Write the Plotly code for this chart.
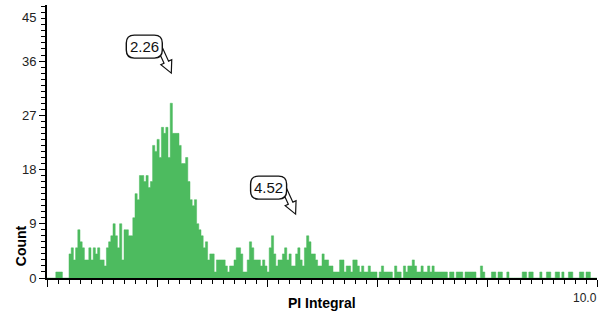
import numpy as np
import plotly.graph_objects as go

# DNA content histogram: PI Integral channel, 0.04-wide bins from 0 to 10
bin_width = 0.04
counts = (
    [0, 0, 0, 0, 1, 1, 1, 0, 0, 0, 4, 5, 3, 5, 8, 6, 5, 3, 3, 5, 3, 5, 4, 5, 3]
    + [3, 2, 5, 6, 7, 9, 7, 5, 9, 3, 8, 8, 7, 7, 10, 14, 13, 17, 17, 16, 17, 15, 16, 22, 21]
    + [23, 20, 25, 24, 25, 20, 29, 24, 24, 24, 22, 19, 19, 20, 16, 13, 12, 13, 9, 8, 7, 5, 6, 3, 4]
    + [4, 1, 3, 3, 3, 3, 2, 1, 2, 2, 3, 5, 5, 4, 1, 1, 3, 6, 5, 3, 3, 3, 2, 3, 2]
    + [1, 5, 7, 4, 2, 3, 3, 4, 5, 3, 4, 2, 2, 4, 5, 3, 2, 5, 7, 6, 4, 4, 3, 2, 2]
    + [4, 3, 3, 2, 2, 1, 1, 1, 3, 3, 1, 2, 2, 1, 3, 3, 2, 1, 2, 1, 1, 2, 1, 1, 1]
    + [0, 1, 2, 1, 1, 1, 1, 0, 2, 1, 1, 0, 2, 1, 2, 2, 3, 2, 1, 1, 2, 1, 1, 2, 1]
    + [2, 1, 1, 1, 1, 1, 1, 0, 1, 1, 0, 1, 1, 1, 0, 1, 1, 1, 1, 1, 0, 0, 2, 1, 0]
    + [0, 0, 1, 1, 0, 1, 1, 0, 0, 1, 0, 0, 0, 0, 0, 0, 1, 1, 0, 1, 1, 0, 0, 0, 1]
    + [0, 0, 1, 1, 0, 0, 1, 1, 0, 1, 0, 0, 1, 1, 0, 0, 0, 1, 1, 0, 1, 1, 0, 0, 0]
)

# Peak markers: position on the PI axis and the count level the callout points at
peak_positions = [2.26, 4.52]
peak_labels = ["2.26", "4.52"]
callout_levels = [34, 10.6]

y_tick_values = [0, 9, 18, 27, 36]
y_top_label = "45"

GREEN = "#4dbb5f"
TICK_FONT = dict(family="Liberation Sans, Arial, sans-serif", size=13, color="#222222")
TITLE_FONT = dict(family="Liberation Sans, Arial, sans-serif", size=14, color="#000000")

# Histogram drawn as a filled step outline over the bin edges
edges = np.arange(len(counts) + 1) * bin_width
step_y = list(counts) + [counts[-1]]

fig = go.Figure()
fig.add_trace(go.Scatter(
    x=edges, y=step_y, mode="lines", line=dict(shape="hv", color=GREEN, width=0.5),
    fill="tozeroy", fillcolor=GREEN, hoverinfo="skip", showlegend=False,
))

# Callout arrow: hollow block arrow pointing down-right to the marker tip
def arrow_path():
    tail = np.array([-11.0, 24.0])        # offset of the arrow tail (pixels, y up)
    length = np.hypot(*tail)
    u = tail / length
    v = np.array([-u[1], u[0]])
    head_len, head_hw, shaft_hw = 12.0, 6.0, 2.5
    pts = [
        np.zeros(2),
        u * head_len + v * head_hw,
        u * head_len + v * shaft_hw,
        u * length + v * shaft_hw,
        u * length - v * shaft_hw,
        u * head_len - v * shaft_hw,
        u * head_len - v * head_hw,
    ]
    return "M " + " L ".join(f"{p[0]:.2f},{p[1]:.2f}" for p in pts) + " Z"


def rounded_box(x0, x1, y0, y1, r):
    return (
        f"M {x0 + r},{y0} L {x1 - r},{y0} Q {x1},{y0} {x1},{y0 + r} "
        f"L {x1},{y1 - r} Q {x1},{y1} {x1 - r},{y1} "
        f"L {x0 + r},{y1} Q {x0},{y1} {x0},{y1 - r} "
        f"L {x0},{y0 + r} Q {x0},{y0} {x0 + r},{y0} Z"
    )


box_x0, box_x1, box_y0, box_y1 = -45, -9, 15, 38
for pos, label, level in zip(peak_positions, peak_labels, callout_levels):
    common = dict(xref="x", yref="y", xsizemode="pixel", ysizemode="pixel",
                  xanchor=pos, yanchor=level, layer="above")
    fig.add_shape(type="path", path=arrow_path(), fillcolor="white",
                  line=dict(color="#111111", width=1.2), **common)
    fig.add_shape(type="path", path=rounded_box(box_x0, box_x1, box_y0, box_y1, 8),
                  fillcolor="white", line=dict(color="#111111", width=1.4), **common)
    fig.add_annotation(x=pos, y=level, xref="x", yref="y", text=label, showarrow=False,
                       xshift=(box_x0 + box_x1) / 2, yshift=(box_y0 + box_y1) / 2,
                       font=dict(family="Liberation Sans Narrow, Liberation Sans, Arial, sans-serif",
                                 size=15, color="#111111"))

# Axis captions and end labels
fig.add_annotation(x=0.5, y=-0.092, xref="paper", yref="paper", text="<b>PI Integral</b>",
                   showarrow=False, xanchor="center", yanchor="middle", font=TITLE_FONT)
fig.add_annotation(x=-0.047, y=0.117, xref="paper", yref="paper", text="<b>Count</b>",
                   showarrow=False, textangle=-90, xanchor="center", yanchor="middle",
                   font=TITLE_FONT)
fig.add_annotation(x=1.004, y=-0.073, xref="paper", yref="paper", text="10.0",
                   showarrow=False, xanchor="right", yanchor="middle",
                   font=dict(family=TICK_FONT["family"], size=12, color="#222222"))
fig.add_annotation(x=-0.016, y=0.956, xref="paper", yref="paper", text=y_top_label,
                   showarrow=False, xanchor="right", yanchor="middle", font=TICK_FONT)

fig.update_layout(
    width=613, height=320,
    margin=dict(l=47, r=16, t=5, b=42),
    paper_bgcolor="white", plot_bgcolor="white",
    showlegend=False,
    xaxis=dict(
        range=[0, 10], showgrid=False, zeroline=False,
        showline=True, linecolor="black", linewidth=2, layer="below traces",
        ticks="outside", dtick=2, tick0=0, ticklen=7, tickwidth=1.2, tickcolor="black",
        showticklabels=False,
        minor=dict(dtick=0.2, tick0=0, ticks="outside", ticklen=4, tickwidth=1,
                   tickcolor="black", showgrid=False),
    ),
    yaxis=dict(
        range=[0, 45.3], showgrid=False, zeroline=False,
        showline=True, linecolor="black", linewidth=2,
        ticks="outside", tickvals=y_tick_values, ticklen=6, tickwidth=1.2, tickcolor="black",
        tickfont=TICK_FONT,
        minor=dict(dtick=1, tick0=0, ticks="outside", ticklen=4, tickwidth=1,
                   tickcolor="black", showgrid=False),
    ),
)

fig.write_html("out.html")
